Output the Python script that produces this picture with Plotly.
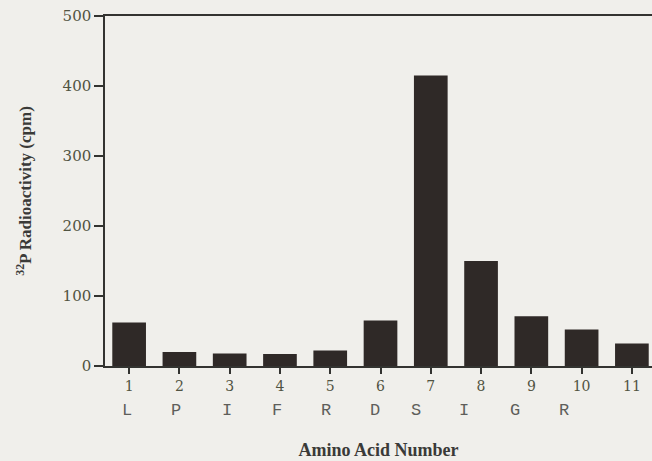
import plotly.graph_objects as go

# ---- data ----
amino_acid_number = [1, 2, 3, 4, 5, 6, 7, 8, 9, 10, 11]
radioactivity_cpm = [62, 20, 18, 17, 22, 65, 415, 150, 71, 52, 32]
residue_letters = ["L", "P", "I", "F", "R", "D", "S", "I", "G", "R"]
y_tick_values = [0, 100, 200, 300, 400, 500]

# ---- layout-only helpers (label nudges in pixels, not data) ----
letter_nudge_px = [-2, -3, -3, -3, -4, -6, -15, -17, -16, -18]

BG = "#f0efeb"
INK = "#333330"
TICK_TXT = "#505342"
BAR = "#2f2927"

fig = go.Figure()
fig.add_trace(go.Bar(
    x=amino_acid_number,
    y=radioactivity_cpm,
    marker=dict(color=BAR, line=dict(width=0)),
    width=0.67,
    showlegend=False,
))

annotations = []
for i, letter in enumerate(residue_letters):
    annotations.append(dict(
        x=amino_acid_number[i], y=-0.126, xref="x", yref="paper",
        text=letter, showarrow=False, xanchor="center", yanchor="middle",
        xshift=letter_nudge_px[i],
        font=dict(family="Liberation Mono, Courier New, monospace", size=17, color="#5e5e5a"),
    ))

fig.update_layout(
    width=652, height=461,
    margin=dict(l=105, r=0, t=16, b=95),
    paper_bgcolor=BG, plot_bgcolor=BG,
    annotations=annotations,
    xaxis=dict(
        range=[0.52, 11.4],
        tickmode="array", tickvals=amino_acid_number,
        ticktext=[str(n) for n in amino_acid_number],
        ticks="outside", ticklen=6, tickwidth=1.5, tickcolor=INK,
        showline=True, linecolor=INK, linewidth=1.5, mirror=True,
        showgrid=False, zeroline=False,
        tickfont=dict(family="DejaVu Serif, serif", size=14, color=TICK_TXT),
        title=dict(text="Amino Acid Number", standoff=51,
                   font=dict(family="Liberation Serif, Times New Roman, serif", size=18, color="#3a3a38", weight="bold")),
    ),
    yaxis=dict(
        range=[0, 500],
        tickmode="array", tickvals=y_tick_values,
        ticks="outside", ticklen=9, tickwidth=1.5, tickcolor=INK,
        showline=True, linecolor=INK, linewidth=1.5,
        showgrid=False, zeroline=False,
        tickfont=dict(family="DejaVu Serif, serif", size=15, color=TICK_TXT),
        title=dict(text="<sup>32</sup>P Radioactivity (cpm)", standoff=27,
                   font=dict(family="Liberation Serif, Times New Roman, serif", size=17, color="#3a3a38", weight="bold")),
    ),
    bargap=0.33,
)

fig.write_html("out.html")
